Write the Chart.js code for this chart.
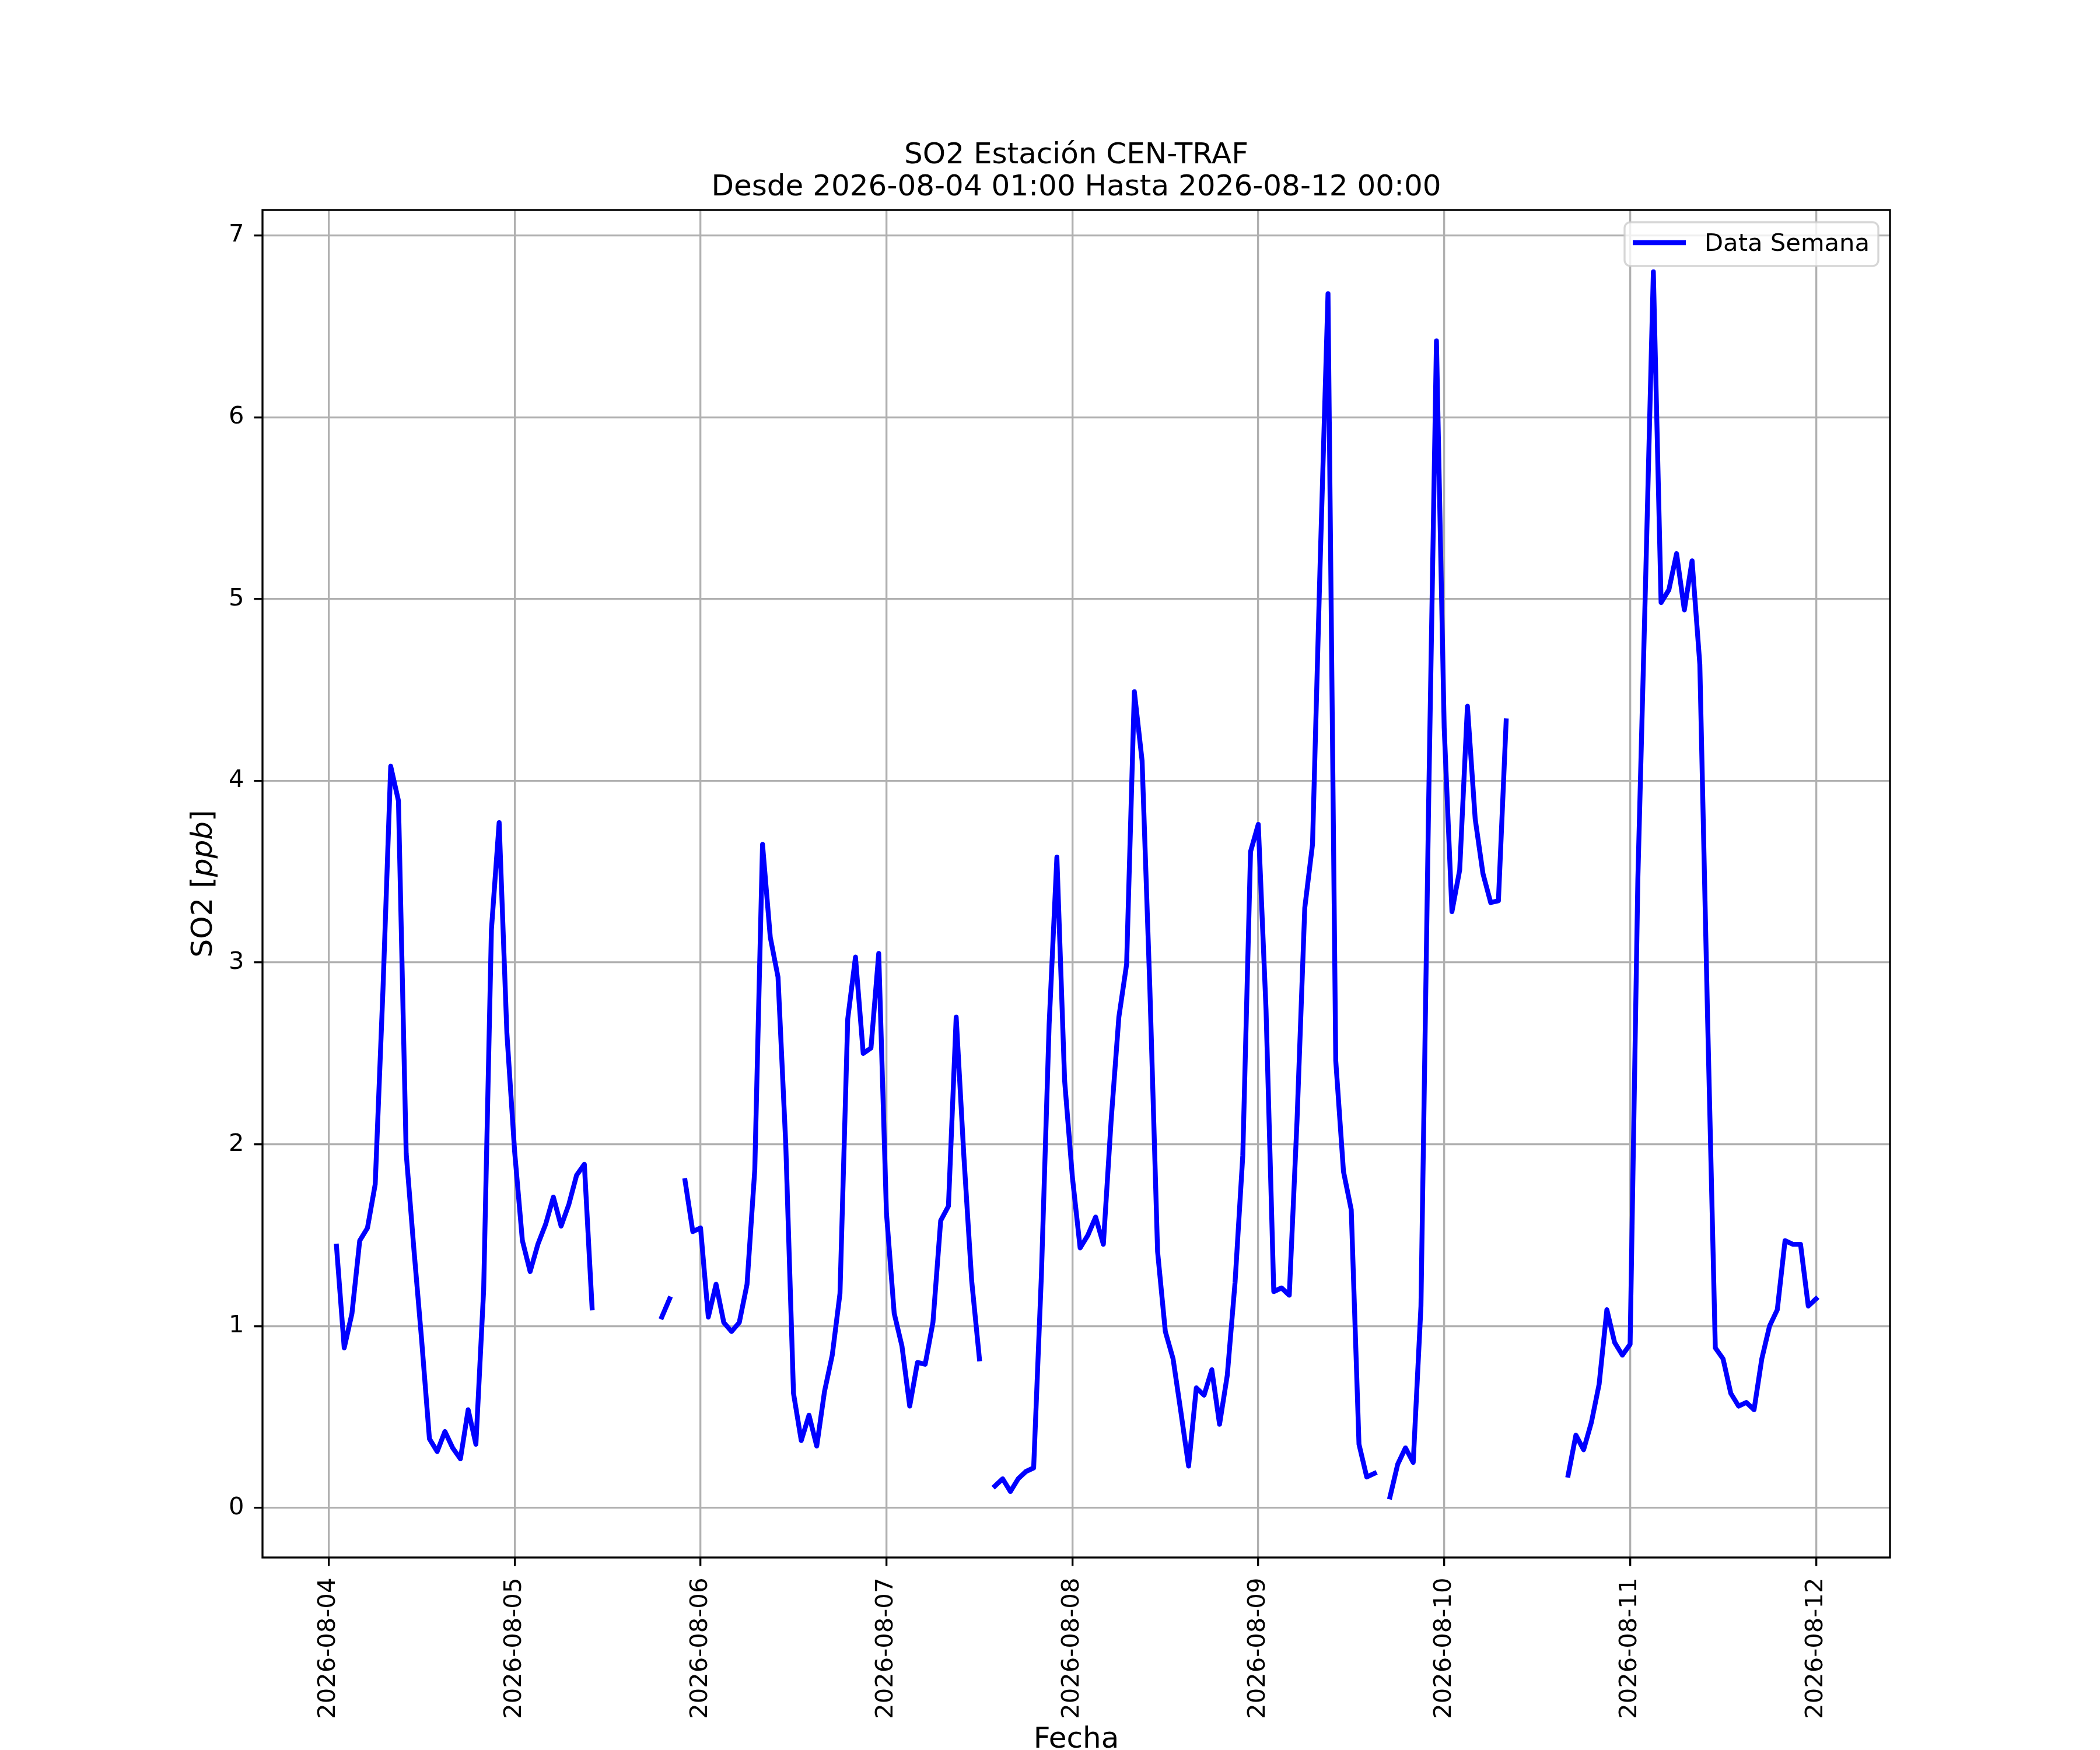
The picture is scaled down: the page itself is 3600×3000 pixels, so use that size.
<!DOCTYPE html>
<html>
<head>
<meta charset="utf-8">
<title>SO2 Estación CEN-TRAF</title>
<script src="https://cdn.jsdelivr.net/npm/chart.js@4.4.1/dist/chart.umd.min.js"></script>
<style>
  html, body { margin: 0; padding: 0; background: #ffffff; }
  canvas { display: block; }
</style>
</head>
<body>
<canvas id="grafico" width="3600" height="3000" style="width:3600px;height:3000px"></canvas>
<script>
// hourly SO2 values, first value is 2026-08-04 01:00, last is 2026-08-12 00:00
const horaInicio = 1;
const so2 = [
  1.44, 0.88, 1.07, 1.47, 1.54, 1.78, 2.85, 4.08, 3.89, 1.95,
  1.42, 0.92, 0.38, 0.31, 0.42, 0.33, 0.27, 0.54, 0.35, 1.20,
  3.18, 3.77, 2.61, 1.96, 1.47, 1.30, 1.45, 1.56, 1.71, 1.55,
  1.67, 1.83, 1.89, 1.10, null, null, null, null, null, null,
  null, null, 1.05, 1.15, null, 1.80, 1.52, 1.54, 1.05, 1.23,
  1.02, 0.97, 1.02, 1.23, 1.86, 3.65, 3.14, 2.92, 2.00, 0.63,
  0.37, 0.51, 0.34, 0.64, 0.84, 1.18, 2.69, 3.03, 2.50, 2.53,
  3.05, 1.62, 1.07, 0.89, 0.56, 0.80, 0.79, 1.02, 1.58, 1.66,
  2.70, 1.93, 1.25, 0.82, null, 0.12, 0.16, 0.09, 0.16, 0.20,
  0.22, 1.28, 2.66, 3.58, 2.35, 1.82, 1.43, 1.50, 1.60, 1.45,
  2.13, 2.70, 2.99, 4.49, 4.11, 2.86, 1.41, 0.97, 0.82, 0.53,
  0.23, 0.66, 0.62, 0.76, 0.46, 0.73, 1.24, 1.94, 3.61, 3.76,
  2.74, 1.19, 1.21, 1.17, 2.13, 3.30, 3.65, 5.22, 6.68, 2.46,
  1.85, 1.64, 0.35, 0.17, 0.19, null, 0.06, 0.24, 0.33, 0.25,
  1.11, 3.90, 6.42, 4.29, 3.28, 3.51, 4.41, 3.79, 3.49, 3.33,
  3.34, 4.33, null, null, null, null, null, null, null, 0.18,
  0.40, 0.32, 0.47, 0.68, 1.09, 0.91, 0.84, 0.90, 3.46, 5.10,
  6.80, 4.98, 5.05, 5.25, 4.94, 5.21, 4.64, 2.70, 0.88, 0.82,
  0.63, 0.56, 0.58, 0.54, 0.82, 1.00, 1.09, 1.47, 1.45, 1.45,
  1.11, 1.15
];

// x tick labels, one per day (every 24 hours from 2026-08-04 00:00)
const fechas = ['2026-08-04', '2026-08-05', '2026-08-06', '2026-08-07', '2026-08-08',
  '2026-08-09', '2026-08-10', '2026-08-11', '2026-08-12'];
const yTicks = [0, 1, 2, 3, 4, 5, 6, 7];

const titulo1 = 'SO2 Estación CEN-TRAF';
const titulo2 = 'Desde 2026-08-04 01:00 Hasta 2026-08-12 00:00';
const etiquetaX = 'Fecha';
const etiquetaSerie = 'Data Semana';

const FUENTE = '"DejaVu Sans", "Liberation Sans", sans-serif';
const LW = 300 / 72 * 0.8; // matplotlib 0.8pt at 300 dpi

//points as {x: hour, y: value}
const puntos = so2.map((v, i) => ({ x: horaInicio + i, y: v }));

//extra drawing: background, frame, titles, axis labels and legend
const decoracion = {
  id: 'decoracion',
  beforeDraw(chart) {
    const ctx = chart.ctx;
    ctx.save();
    ctx.fillStyle = '#ffffff';
    ctx.fillRect(0, 0, chart.width, chart.height);
    ctx.restore();
  },
  afterDraw(chart) {
    const ctx = chart.ctx;
    const a = chart.chartArea;
    const cx = (a.left + a.right) / 2;
    const cy = (a.top + a.bottom) / 2;
    ctx.save();

    // frame around the axes
    ctx.strokeStyle = '#000000';
    ctx.lineWidth = LW;
    ctx.strokeRect(a.left, a.top, a.right - a.left, a.bottom - a.top);

    // title
    ctx.fillStyle = '#000000';
    ctx.textAlign = 'center';
    ctx.textBaseline = 'alphabetic';
    ctx.font = '50px ' + FUENTE;
    ctx.fillText(titulo1, cx, 280);
    ctx.fillText(titulo2, cx, 335);

    // x label
    ctx.fillText(etiquetaX, cx, 2996);

    // y label "SO2 [ppb]" with italic ppb
    const partes = [
      { t: 'SO2 [', f: '50px ' + FUENTE },
      { t: 'ppb', f: 'italic 50px ' + FUENTE },
      { t: ']', f: '50px ' + FUENTE }
    ];
    let total = 0;
    partes.forEach(p => { ctx.font = p.f; p.w = ctx.measureText(p.t).width; total += p.w; });
    ctx.translate(363, cy);
    ctx.rotate(-Math.PI / 2);
    ctx.textAlign = 'left';
    let px = -total / 2;
    partes.forEach(p => { ctx.font = p.f; ctx.fillText(p.t, px, 0); px += p.w; });
    ctx.setTransform(1, 0, 0, 1, 0, 0);

    // legend box
    const lx = 2785, ly = 381, lw = 435, lh = 75, r = 10;
    ctx.beginPath();
    ctx.moveTo(lx + r, ly);
    ctx.arcTo(lx + lw, ly, lx + lw, ly + lh, r);
    ctx.arcTo(lx + lw, ly + lh, lx, ly + lh, r);
    ctx.arcTo(lx, ly + lh, lx, ly, r);
    ctx.arcTo(lx, ly, lx + lw, ly, r);
    ctx.closePath();
    ctx.fillStyle = 'rgba(255,255,255,0.8)';
    ctx.fill();
    ctx.strokeStyle = 'rgba(204,204,204,0.8)';
    ctx.lineWidth = LW;
    ctx.stroke();

    ctx.beginPath();
    ctx.moveTo(2799, 416);
    ctx.lineTo(2890, 416);
    ctx.strokeStyle = '#0000ff';
    ctx.lineWidth = 300 / 72 * 2;
    ctx.lineCap = 'butt';
    ctx.stroke();

    ctx.fillStyle = '#000000';
    ctx.font = '41.7px ' + FUENTE;
    ctx.textAlign = 'left';
    ctx.fillText(etiquetaSerie, 2922, 430);

    ctx.restore();
  }
};

const canvas = document.getElementById('grafico');

const chart = new Chart(canvas, {
  type: 'line',
  data: {
    datasets: [{
      label: etiquetaSerie,
      data: puntos,
      borderColor: '#0000ff',
      backgroundColor: '#0000ff',
      borderWidth: 300 / 72 * 2,
      borderJoinStyle: 'round',
      borderCapStyle: 'square',
      pointRadius: 0,
      pointHoverRadius: 0,
      tension: 0,
      spanGaps: false,
      fill: false
    }]
  },
  options: {
    responsive: false,
    devicePixelRatio: 1,
    animation: false,
    events: [],
    layout: {
      padding: { top: 360, right: 360, left: 0, bottom: 0 }
    },
    plugins: {
      legend: { display: false },
      title: { display: false },
      tooltip: { enabled: false }
    },
    scales: {
      x: {
        type: 'linear',
        min: -8.55,
        max: 201.55,
        afterBuildTicks: scale => {
          scale.ticks = fechas.map((f, i) => ({ value: i * 24 }));
        },
        afterFit: scale => { scale.height = 330; },
        grid: {
          color: '#b0b0b0',
          lineWidth: LW,
          tickColor: '#000000',
          tickWidth: LW,
          tickLength: 14.6
        },
        border: { display: false },
        ticks: {
          autoSkip: false,
          minRotation: 90,
          maxRotation: 90,
          padding: 20,
          color: '#000000',
          font: { family: FUENTE, size: 41.7 },
          callback: (value, index) => fechas[index]
        }
      },
      y: {
        type: 'linear',
        min: -0.273,
        max: 7.14,
        afterBuildTicks: scale => {
          scale.ticks = yTicks.map(v => ({ value: v }));
        },
        afterFit: scale => { scale.width = 450; },
        grid: {
          color: '#b0b0b0',
          lineWidth: LW,
          tickColor: '#000000',
          tickWidth: LW,
          tickLength: 14.6
        },
        border: { display: false },
        ticks: {
          padding: 17,
          color: '#000000',
          font: { family: FUENTE, size: 41.7 },
          callback: value => String(value)
        }
      }
    }
  },
  plugins: [decoracion]
});
</script>
</body>
</html>
